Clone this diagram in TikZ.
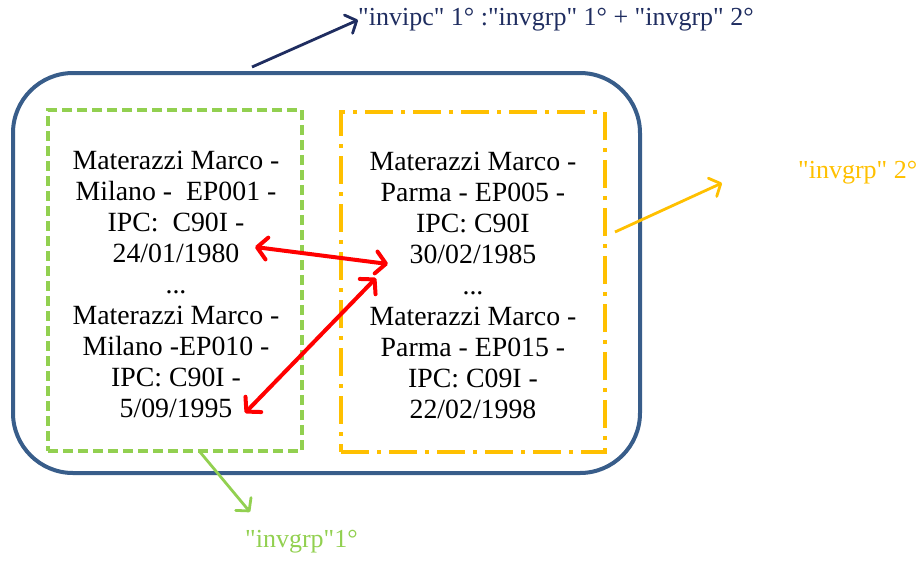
\documentclass[tikz,border=0pt]{standalone}
\usepackage{fontspec}
\setmainfont{Liberation Serif}[Ligatures=TeXOff]
\usetikzlibrary{arrows.meta}
\definecolor{frameblue}{RGB}{56,93,138}
\definecolor{navy}{RGB}{31,45,96}
\definecolor{grpgreen}{RGB}{146,208,80}
\definecolor{grporange}{RGB}{255,192,0}
\definecolor{linkred}{RGB}{255,0,0}
\begin{document}
\begin{tikzpicture}[x=1pt,y=-1pt,
  recordtext/.style={align=center, inner sep=0pt, font=\fontsize{27.8}{31}\selectfont},
  labeltext/.style={anchor=west, inner sep=0pt, font=\fontsize{26}{30}\selectfont},
  groupbox/.style={line width=4pt, inner sep=0pt},
  link/.style={linkred, line width=4pt, line cap=round,
    {Straight Barb[round,length=10pt,width=22pt]}-{Straight Barb[round,length=10pt,width=22pt]}},
  pointer/.style={line width=2.8pt, -{Straight Barb[round,length=9pt,width=20pt]}}
]
\useasboundingbox (0,0) rectangle (922,563);

% outer frame holding both groups
\node (frame) [draw=frameblue, line width=4pt, rounded corners=60pt,
  minimum width=627pt, minimum height=400pt] at (326.5,273) {};

% group 1 (green, dashed) and group 2 (orange, dash-dot)
\node (grpA) [groupbox, draw=grpgreen, dash pattern=on 10pt off 5pt,
  minimum width=254pt, minimum height=341pt] at (175,280.5) {};
\node (grpB) [groupbox, draw=grporange, dash pattern=on 28pt off 8pt on 4pt off 8pt,
  minimum width=264pt, minimum height=340pt] at (473,282) {};

% record lists
\node (recA) [recordtext] at (176,284) {Materazzi Marco -\\Milano -~ EP001 -\\IPC:~ C90I -\\24/01/1980\\...\\Materazzi Marco -\\Milano -EP010 -\\IPC: C90I -\\5/09/1995};
\node (recB) [recordtext] at (473,285) {Materazzi Marco -\\Parma - EP005 -\\IPC: C90I\\30/02/1985\\...\\Materazzi Marco -\\Parma - EP015 -\\IPC: C09I -\\22/02/1998};

% links between records
\coordinate (a1) at (255,247);
\coordinate (b1) at (388,264);
\coordinate (a2) at (245,413);
\coordinate (b2) at (376,278);
\draw[link] (a1) -- (b1);
\draw[link] (a2) -- (b2);

% labels and their pointers
\node (lblTop) [labeltext, text=navy] at (358,20) {"invipc" 1° :"invgrp" 1° + "invgrp" 2°};
\coordinate (pTop) at (252,67);
\draw[pointer, navy] (pTop) -- (lblTop.west);

\node (lblB) [labeltext, text=grporange] at (798,173) {"invgrp" 2°};
\coordinate (pB) at (615,232);
\coordinate (tB) at (722,183);
\draw[pointer, grporange] (pB) -- (tB);

\node (lblA) [labeltext, text=grpgreen] at (245,542) {"invgrp"1°};
\coordinate (pA) at (200,452);
\coordinate (tA) at (250,512);
\draw[pointer, grpgreen] (pA) -- (tA);
\end{tikzpicture}
\end{document}
